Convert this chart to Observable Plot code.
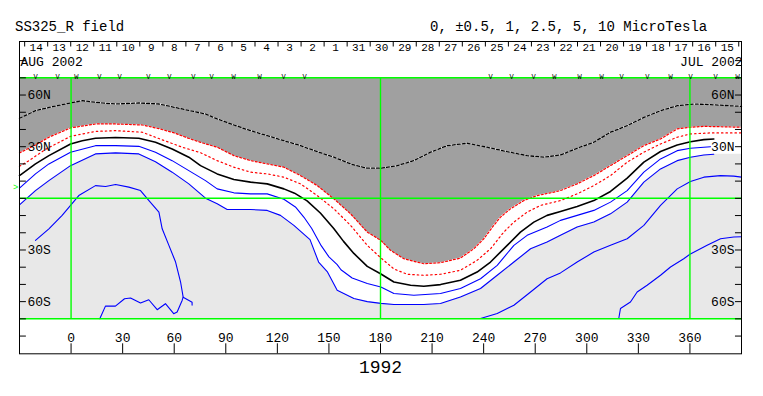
<!DOCTYPE html>
<html><head><meta charset="utf-8">
<script src="https://cdn.jsdelivr.net/npm/d3@7"></script>
<script src="https://cdn.jsdelivr.net/npm/@observablehq/plot@0.6"></script>
<style>
body{margin:0;background:#fff;width:763px;height:396px;overflow:hidden;font-family:"Liberation Mono",monospace;}
#head{position:relative;height:36px;}
#head span{position:absolute;top:20px;font-size:14px;line-height:14px;white-space:pre;color:#000;}
#chart svg{display:block;}
</style></head><body>
<div id="head"><span style="left:15px">SS325_R field</span><span style="left:430px">0, ±0.5, 1, 2.5, 5, 10 MicroTesla</span></div>
<div id="chart"></div>
<script>
// ---- data: contours [Carrington longitude, latitude] ----
const outerRed = [[-30,26.4],[-20.7,31.0],[-12.9,35.5],[-0.3,40.9],[14.2,43.2],[25.9,43.2],[41.4,42.6],[51,40.5],[60,38],[68,35],[75.3,32.5],[85.0,29.7],[94.7,24.8],[104.4,21.9],[114.1,20.0],[123.8,18.1],[133.5,13.2],[143.2,7.4],[152.9,-0.3],[162.6,-9.0],[172.3,-19.6],[180.2,-24.4],[185.8,-30.2],[193.6,-35.1],[205.2,-38.0],[214.9,-37.4],[226.5,-34.7],[234.3,-29.3],[240.1,-23.5],[245.9,-15.7],[249.8,-10.9],[255.6,-6.1],[263.4,-1.3],[271.1,1.6],[280.8,3.6],[284.7,4.5],[294.4,8.4],[304.1,13.2],[313.8,19.0],[323.5,24.8],[333.2,30.6],[342.9,34.5],[352.6,40.3],[360.3,41.3],[368.1,41.8],[390,41.3]];
const innerRed = [[-30,18.6],[-24.5,21.9],[-14.8,28.5],[-0.3,36.0],[14.2,38.9],[25.9,39.3],[41.4,38.4],[53.0,34.0],[64.7,29.7],[75.3,26.5],[85.0,21.9],[94.7,18.1],[104.4,15.2],[114.1,14.2],[123.8,12.3],[133.5,8.4],[143.2,1.6],[152.9,-6.1],[162.6,-15.7],[172.3,-27.3],[180.2,-34.6],[187.8,-41.0],[195.5,-44.1],[205.2,-44.7],[214.9,-44.1],[226.5,-41.8],[236.2,-36.0],[244.0,-29.3],[251.7,-19.6],[257.6,-13.8],[265.3,-8.0],[273.1,-4.1],[284.7,-1.3],[294.4,2.6],[304.1,7.4],[313.8,13.2],[323.5,21.0],[333.2,26.8],[342.9,31.6],[352.6,35.5],[360.3,37.4],[372.0,38.0],[390,38.0]];
const neutral = [[-30,13.2],[-20.7,20.0],[-12.9,24.8],[-0.3,31.6],[6.5,33.5],[14.2,34.9],[25.9,35.3],[39.4,34.9],[49.1,32.6],[58.8,28.7],[68.5,23.9],[75.3,19.0],[85.0,14.2],[94.7,10.9],[104.4,9.4],[114.1,8.4],[123.8,5.5],[130,3],[137.3,-1.5],[145,-8.5],[152.8,-17.5],[158.5,-25],[164.5,-32],[172.3,-39.5],[180,-43.8],[187.8,-48.6],[197.5,-50.5],[205.2,-51.1],[214.9,-50.1],[226.5,-47.6],[236.2,-42.8],[244.0,-37.0],[253.7,-27.3],[261.4,-19.6],[269.2,-13.8],[276.9,-9.9],[284.7,-7.6],[294.4,-4.7],[304.1,-1.3],[313.8,4.0],[323.5,11.7],[333.2,21.0],[342.9,27.2],[352.6,31.0],[360.3,32.9],[368.1,34.1],[373.9,34.5]];
const bluePlus05 = [[-30,5.9],[-20.7,14.2],[-12.9,20.0],[-0.3,26.8],[14.2,30.6],[25.9,30.6],[39.4,30.2],[49.1,26.8],[58.8,21.9],[68.5,16.1],[78.2,10.3],[85.0,5.5],[94.7,3.2],[104.4,2.6],[114.1,2.6],[123.8,-0.5],[130.5,-5],[135.5,-11],[140,-17.5],[145.5,-27.5],[150,-34],[154.8,-38.5],[157,-41.5],[163.5,-46.3],[172.3,-49.5],[180.2,-51.5],[187.8,-55.3],[199.4,-56.3],[214.9,-55.3],[226.5,-52.4],[238.2,-46.7],[247.9,-38.9],[257.6,-27.3],[265.3,-21.5],[276.9,-16.7],[284.7,-12.8],[294.4,-9.9],[304.1,-7.0],[313.8,-2.2],[323.5,4.5],[333.2,15.2],[342.9,22.9],[352.6,27.7],[360.3,29.1],[372.0,30.0]];
const bluePlus1 = [[-30,-3.8],[-20.7,4.5],[-12.9,10.3],[-0.3,19.0],[14.2,25.8],[25.9,26.4],[39.4,25.8],[49.1,21.3],[58.8,15.2],[68.5,8.4],[78.2,0.1],[85,-3.2],[90.8,-6.5],[104.4,-6.5],[114.1,-7.0],[121.8,-9.9],[129.6,-15.7],[139,-24],[144,-37],[149,-42.5],[154.8,-53.4],[164.5,-58.2],[172.3,-60.0],[180.2,-61.0],[187.8,-61.7],[205.2,-61.7],[214.9,-61.1],[226.5,-57.3],[238.2,-52.4],[247.9,-44.7],[257.6,-37.0],[267.3,-29.3],[276.9,-25.4],[284.7,-21.5],[294.4,-16.7],[304.1,-13.8],[313.8,-9.0],[323.5,-2.2],[333.2,9.4],[342.9,17.1],[352.6,21.9],[360.3,23.9],[368.1,25.2],[373.9,25.6]];
const whiteBandEdgeEnd = [[390,25.6]];
const blueBell = [[-20.7,-24.4],[-12.9,-17.7],[-5.2,-9.9],[-0.3,-4.1],[4.5,1.6],[14.2,7.4],[20.1,6.9],[25.9,8.0],[33.6,6.5],[40.4,4.5],[45.3,-1.3],[51.1,-8.0],[53.0,-17.7],[56.9,-27.3],[60.8,-37.0],[63.7,-48.6],[64.7,-54.4],[65.2,-57.4],[70.4,-60.3],[70.4,-62]];
const blueSouth = [[16.7,-69.9],[20.0,-62.6],[25.8,-62.6],[31.1,-58.3],[34.6,-57.9],[40.4,-60.8],[45.2,-58.9],[50.1,-64.7],[54.9,-61.2],[59.7,-67.0],[61.7,-66.0],[64.6,-59.3],[65.2,-57.4]];
const blueRight = [[238.2,-69.8],[247.9,-66.9],[257.6,-62.1],[267.3,-54.4],[276.9,-46.7],[284.7,-43.3],[294.4,-37.0],[304.1,-31.2],[313.8,-27.3],[323.5,-23.5],[333.2,-15.7],[342.9,-4.1],[352.6,5.5],[360.3,9.8],[368.1,12.3],[377.8,13.2],[385.5,12.9],[390,12.3]];
const blueFarRight = [[318.6,-69.8],[319.6,-64.0],[325.4,-60.2],[329.3,-54.4],[335.1,-50.5],[342.9,-44.7],[348.7,-39.9],[356.4,-35.1],[360,-32.5],[370.0,-27.3],[377.8,-23.5],[385.5,-22.5],[390,-22.3]];
const negDotted = [[-30,46.5],[-20.7,50.9],[-12.9,52.8],[-0.3,55.4],[6.5,56.7],[18.1,55.4],[25.9,54.8],[39.4,55.4],[51.1,54.8],[64.6,51.9],[78.2,49.0],[85.0,46.1],[94.7,42.6],[104.4,39.3],[114.1,36.4],[123.8,33.5],[133.5,30.6],[143.2,27.1],[152.9,23.9],[162.6,20.0],[172.3,17.5],[180.2,17.5],[189.7,19.0],[199.4,21.9],[209.1,26.8],[218.8,30.6],[230.4,32.0],[242.0,29.7],[253.7,27.1],[265.3,24.8],[275.0,23.9],[284.7,25.2],[294.4,29.1],[304.1,32.6],[313.8,38.4],[323.5,42.2],[333.2,47.0],[342.9,50.9],[352.6,53.8],[362.3,54.8],[372.0,54.4],[390,53.4]];

// ---- axes / annotation data ----
const xTicks = [0,30,60,90,120,150,180,210,240,270,300,330,360];
const latTicks = [-80,-70,-60,-50,-40,-30,-20,-10,0,10,20,30,40,50,60,70,80];
const latLabels = [[60,"60N"],[30,"30N"],[-30,"30S"],[-60,"60S"]];
const greenLons = [0,180,360];
const greenLats = [70,0,-70];
const julDays = [15,16,17,18,19,20,21,22,23,24,25,26,27,28,29,30,31];
const augDays = [1,2,3,4,5,6,7,8,9,10,11,12,13,14];
const lonJul15 = 381.7, degPerDay = 13.4;
const vLons = [-20.7,-7.9,16.5,28.2,45.0,57.2,71.2,81.7,123.6,135.8,244.0,256.2,269.0,320.2,335.3,360.4,374.9];
const wLons = [3.1,94.5,109.6,281.2,295.8,308.6,348.7,387.7];
const b0Lat = 6.5;
const rotation = "1992";
const monthLeft = "AUG 2002", monthRight = "JUL 2002";
const X_DOMAIN = [-30, 390], Y_DOMAIN = [-90.3, 91.1];
const MAP = {lon0:-30, lon1:390, lat0:-70, lat1:70};

const rows = a => a.map(([lon, lat]) => ({lon, lat}));
const days = julDays.concat(augDays).map((d, i) => ({d, lon: lonJul15 - i * degPerDay}));
const seps = [{lon: lonJul15 + degPerDay/2}].concat(days.map(o => ({lon: o.lon - degPerDay/2})));
const FONT = "Liberation Mono, DejaVu Sans Mono, monospace";
const GREEN = "#00ff00";
const yTop = Y_DOMAIN[1], yBot = Y_DOMAIN[0];

const chart = Plot.plot({
  width: 763, height: 360,
  marginLeft: 19, marginRight: 22, marginTop: 5, marginBottom: 42.7,
  x: {domain: X_DOMAIN, axis: null},
  y: {domain: Y_DOMAIN, axis: null},
  style: {fontFamily: FONT, fontSize: "13px", background: "white", color: "black"},
  marks: [
    Plot.rect([MAP], {x1: "lon0", x2: "lon1", y1: "lat0", y2: "lat1", fill: "#e8e8e8"}),
    Plot.areaY(rows(bluePlus1.concat(whiteBandEdgeEnd)), {x: "lon", y1: MAP.lat1, y2: "lat", fill: "white"}),
    Plot.areaY(rows(outerRed), {x: "lon", y1: MAP.lat1, y2: "lat", fill: "#a0a0a0"}),
    Plot.line(rows(negDotted), {x: "lon", y: "lat", stroke: "white", strokeWidth: 1.3}),
    Plot.line(rows(negDotted), {x: "lon", y: "lat", stroke: "black", strokeWidth: 1.3, strokeDasharray: "3,2"}),
    Plot.line(rows(outerRed), {x: "lon", y: "lat", stroke: "red", strokeWidth: 1.2, strokeDasharray: "2,2"}),
    Plot.line(rows(innerRed), {x: "lon", y: "lat", stroke: "red", strokeWidth: 1.2, strokeDasharray: "1.5,3"}),
    Plot.line(rows(neutral), {x: "lon", y: "lat", stroke: "black", strokeWidth: 1.6}),
    ...[bluePlus05, bluePlus1, blueBell, blueSouth, blueRight, blueFarRight].map(c =>
      Plot.line(rows(c), {x: "lon", y: "lat", stroke: "#0000ff", strokeWidth: 1.1})),
    Plot.ruleX(greenLons, {y1: MAP.lat0, y2: MAP.lat1, stroke: GREEN, strokeWidth: 1.4}),
    Plot.ruleY(greenLats, {x1: X_DOMAIN[0], x2: X_DOMAIN[1], stroke: GREEN, strokeWidth: 1.5}),
    Plot.text([b0Lat], {x: X_DOMAIN[0], y: d => d, text: () => ">", textAnchor: "end", dx: -1, fill: GREEN, fontSize: 9}),
    // latitude ticks & labels (both sides, inside the frame)
    Plot.ruleY(latTicks, {x1: X_DOMAIN[0], x2: X_DOMAIN[0] + 4, stroke: "black"}),
    Plot.ruleY(latTicks, {x1: X_DOMAIN[1] - 3.5, x2: X_DOMAIN[1], stroke: "black"}),
    Plot.text(latLabels, {x: X_DOMAIN[0] + 4, y: d => d[0], text: d => d[1], textAnchor: "start", dx: 1, fontSize: 13}),
    Plot.text(latLabels, {x: X_DOMAIN[1] - 3.5, y: d => d[0], text: d => d[1], textAnchor: "end", dx: -1, fontSize: 13}),
    // longitude ticks & labels at the bottom
    Plot.ruleX(xTicks, {y1: yBot, y2: yBot + 5.8, stroke: "black"}),
    Plot.text(xTicks, {x: d => d, y: yBot, dy: -16, text: d => String(d), fontSize: 13}),
    Plot.text([rotation], {frameAnchor: "bottom", dy: 13, lineAnchor: "middle", fontSize: 18}),
    // date row
    Plot.ruleX(seps.filter(s => s.lon > X_DOMAIN[0] && s.lon < X_DOMAIN[1]), {x: "lon", y1: yTop, y2: yTop - 3.2, stroke: "black"}),
    Plot.text(days, {x: "lon", y: yTop, dy: 6, text: d => String(d.d), fontSize: 11}),
    Plot.text([monthLeft], {x: X_DOMAIN[0], y: yTop, dx: 1, dy: 20, textAnchor: "start", fontSize: 13}),
    Plot.text([monthRight], {x: X_DOMAIN[1], y: yTop, dx: 1, dy: 20, textAnchor: "end", fontSize: 13}),
    Plot.text(vLons, {x: d => d, y: MAP.lat1, text: () => "V", lineAnchor: "bottom", dy: 1, fontSize: 7}),
    Plot.text(wLons, {x: d => d, y: MAP.lat1, text: () => "W", lineAnchor: "bottom", dy: 1, fontSize: 7}),
    Plot.frame({stroke: "black"})
  ]
});
document.getElementById("chart").appendChild(chart);
</script>
</body></html>
